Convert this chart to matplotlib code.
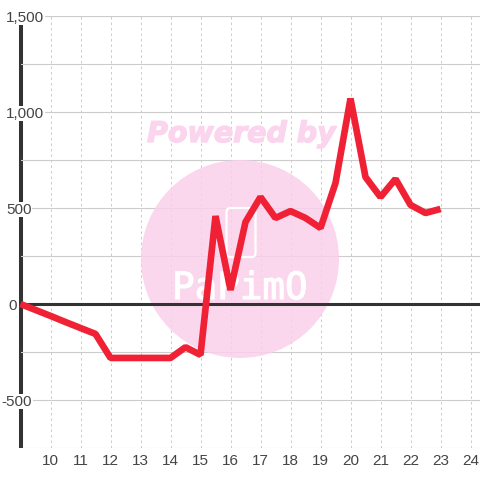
import matplotlib
matplotlib.use('Agg')
import matplotlib.pyplot as plt
import matplotlib.patheffects as pe
from matplotlib.patches import Circle, FancyBboxPatch
from matplotlib.transforms import IdentityTransform

hours = [9, 9.5, 10, 10.5, 11, 11.5, 12, 12.5, 13, 13.5, 14, 14.5, 15, 15.5, 16, 16.5,
         17, 17.5, 18, 18.5, 19, 19.5, 20, 20.5, 21, 21.5, 22, 22.5, 23]
values = [0, -31, -62, -94, -125, -156, -281, -281, -281, -281, -281, -225, -265, 458, 73, 427,
          557, 448, 484, 448, 396, 630, 1070, 661, 557, 651, 516, 474, 495]

x_ticks = list(range(10, 25))
y_major = [-500, 0, 500, 1000, 1500]
y_labels = ['-500', '0', '500', '1,000', '1,500']
y_minor = [-750, -250, 250, 750, 1250]
# distance of each y label from the axis, in points
y_pads = [13.5, 9, 10.5, 10.5, 10.5]

plt.rcParams['font.family'] = ['Liberation Sans', 'DejaVu Sans']

fig = plt.figure(figsize=(4.8, 4.8), dpi=100)
ax = fig.add_axes([20.5 / 480, 32 / 480, 459.5 / 480, 432 / 480])
ax.set_xlim(9, 9 + 459.5 / 30)
ax.set_ylim(-750, 1500)
ax.set_axisbelow(True)

ax.set_xticks(x_ticks)
ax.set_yticks(y_major)
ax.set_yticklabels(y_labels)
ax.set_yticks(y_minor, minor=True)
ax.tick_params(which='both', length=0)
ax.tick_params(axis='x', labelsize=11, labelcolor='#444444', pad=4.5)
ax.tick_params(axis='y', labelsize=11, labelcolor='#444444')
ax.grid(axis='x', color='#cccccc', lw=0.72, ls=(0, (2.5, 3)))
ax.grid(axis='y', which='both', color='#cccccc', lw=0.8)

for tick, pad in zip(ax.yaxis.get_major_ticks(), y_pads):
    tick.set_pad(pad)
    tick.label1.set_horizontalalignment('left')
    tick.label1.set_bbox(dict(fc='white', ec='none', pad=0.5))

for side in ['top', 'right', 'bottom']:
    ax.spines[side].set_visible(False)
ax.spines['left'].set_color('#333333')
ax.spines['left'].set_linewidth(2.9)
ax.spines['left'].set_zorder(0.4)
ax.spines['left'].set_capstyle('butt')

# watermark, placed in pixels from the top left corner
px = IdentityTransform()
ax.add_patch(Circle((240, 480 - 259), 99, transform=px, fc='#fbd0ec', ec='none',
                    alpha=0.85, zorder=1, clip_on=False))
ax.add_patch(FancyBboxPatch((226.5, 480 - 257), 29, 49, boxstyle='round,pad=0,rounding_size=4',
                            transform=px, fc='none', ec='white', lw=1.6, zorder=1.1, clip_on=False))
ax.text(241.5, 480 - 134, 'Powered by', transform=px, ha='center', va='center', color='#fbd5ee',
        fontsize=20.5, fontweight='bold', fontstyle='italic', family='DejaVu Sans', zorder=1,
        path_effects=[pe.withStroke(linewidth=1, foreground='#fbd5ee')])
ax.text(240, 480 - 289, 'PaPimO', transform=px, ha='center', va='center', color='white',
        fontsize=27, family='DejaVu Sans Mono', zorder=1.1,
        path_effects=[pe.withStroke(linewidth=0.8, foreground='white')])

ax.axhline(0, color='#333333', lw=2.2, zorder=1.5)
ax.plot(hours, values, color='#f02035', lw=4.8, solid_joinstyle='bevel', solid_capstyle='butt',
        zorder=3, clip_on=False)

plt.savefig('out.png', dpi=100)
